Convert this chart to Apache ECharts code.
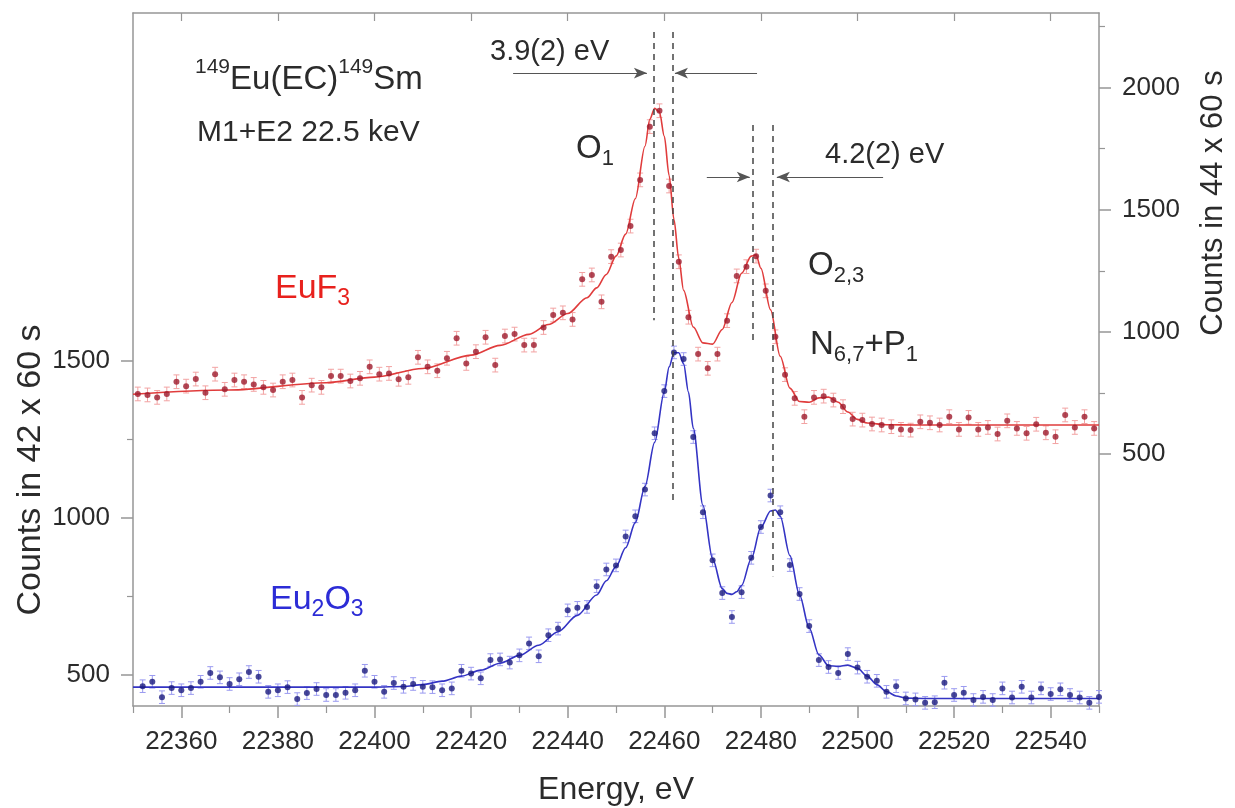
<!DOCTYPE html>
<html>
<head>
<meta charset="utf-8">
<script src="https://cdn.jsdelivr.net/npm/echarts@6/dist/echarts.min.js"></script>
<style>
  html, body { margin: 0; padding: 0; background: #fff; }
  #chart { width: 1235px; height: 808px; }
</style>
</head>
<body>
<div id="chart"></div>
<script>
// EuF3, right axis (counts in 44 x 60 s)
const redE = [
  22351, 22353, 22355, 22357, 22359, 22361, 22363, 22365, 22367, 22369,
  22371, 22373, 22375, 22377, 22379, 22381, 22383, 22385, 22387, 22389,
  22391, 22393, 22395, 22397, 22399, 22401, 22403, 22405, 22407, 22409,
  22411, 22413, 22415, 22417, 22419, 22421, 22423, 22425, 22427, 22429,
  22431, 22433, 22435, 22437, 22439, 22441, 22443, 22445, 22447, 22449,
  22451, 22453, 22455, 22457, 22459, 22461, 22463, 22465, 22467, 22469,
  22471, 22473, 22475, 22477, 22479, 22481, 22483, 22485, 22487, 22489,
  22491, 22493, 22495, 22497, 22499, 22501, 22503, 22505, 22507, 22509,
  22511, 22513, 22515, 22517, 22519, 22521, 22523, 22525, 22527, 22529,
  22531, 22533, 22535, 22537, 22539, 22541, 22543, 22545, 22547, 22549
];
const redV = [
  746, 742, 732, 746, 796, 778, 807, 751, 827, 765,
  803, 796, 785, 773, 762, 796, 803, 732, 782, 773,
  819, 819, 799, 810, 857, 827, 830, 806, 814, 896,
  857, 841, 892, 974, 871, 919, 978, 864, 983, 991,
  946, 946, 1018, 1069, 1078, 1051, 1215, 1233, 1123, 1308,
  1335, 1433, 1622, 1840, 1905, 1597, 1287, 1060, 909, 851,
  909, 1046, 1229, 1267, 1310, 1168, 980, 825, 728, 653,
  732, 737, 721, 694, 643, 639, 623, 619, 612, 601,
  598, 632, 628, 619, 653, 601, 650, 601, 609, 582,
  636, 605, 585, 622, 587, 571, 660, 609, 653, 605
];
const redFitE = [22350, 22370, 22390, 22400, 22410, 22420, 22426, 22432, 22436, 22440,
  22444, 22446, 22448, 22450, 22452, 22454, 22456, 22457, 22458, 22459,
  22460, 22461, 22462, 22463, 22464, 22466, 22468, 22470, 22472, 22474,
  22476, 22478, 22479, 22480, 22482, 22484, 22486, 22488, 22490, 22492,
  22494, 22496, 22498, 22500, 22502, 22506, 22512, 22550];
const redFitV = [745, 762, 792, 815, 850, 905, 945, 990, 1030, 1075,
  1140, 1180, 1235, 1310, 1400, 1545, 1760, 1870, 1915, 1900,
  1800, 1640, 1460, 1300, 1170, 1020, 955, 950, 1010, 1120,
  1240, 1310, 1315, 1260, 1090, 900, 770, 715, 712, 730,
  733, 712, 672, 642, 627, 620, 619, 619];

// Eu2O3, left axis (counts in 42 x 60 s)
const blueE = [
  22352, 22354, 22356, 22358, 22360, 22362, 22364, 22366, 22368, 22370,
  22372, 22374, 22376, 22378, 22380, 22382, 22384, 22386, 22388, 22390,
  22392, 22394, 22396, 22398, 22400, 22402, 22404, 22406, 22408, 22410,
  22412, 22414, 22416, 22418, 22420, 22422, 22424, 22426, 22428, 22430,
  22432, 22434, 22436, 22438, 22440, 22442, 22444, 22446, 22448, 22450,
  22452, 22454, 22456, 22458, 22460, 22462, 22464, 22466, 22468, 22470,
  22472, 22474, 22476, 22478, 22480, 22482, 22484, 22486, 22488, 22490,
  22492, 22494, 22496, 22498, 22500, 22502, 22504, 22506, 22508, 22510,
  22512, 22514, 22516, 22518, 22520, 22522, 22524, 22526, 22528, 22530,
  22532, 22534, 22536, 22538, 22540, 22542, 22544, 22546, 22548, 22550
];
const blueV = [
  465, 479, 430, 459, 452, 459, 479, 507, 493, 472,
  487, 510, 495, 447, 452, 462, 424, 443, 456, 437,
  437, 444, 452, 514, 479, 447, 475, 463, 472, 463,
  462, 452, 458, 514, 505, 490, 548, 550, 540, 563,
  601, 560, 627, 648, 706, 714, 717, 783, 836, 849,
  941, 1005, 1090, 1269, 1403, 1526, 1505, 1257, 1018, 865,
  761, 685, 764, 873, 971, 1071, 1018, 850, 758, 656,
  548, 526, 507, 567, 524, 495, 482, 447, 465, 426,
  423, 412, 414, 476, 437, 444, 421, 431, 421, 458,
  429, 463, 429, 458, 440, 455, 437, 429, 412, 431
];
const blueFitE = [22350, 22400, 22406, 22410, 22414, 22418, 22422, 22426, 22430, 22434,
  22438, 22442, 22446, 22448, 22450, 22452, 22454, 22456, 22458, 22460,
  22461, 22462, 22463, 22464, 22465, 22466, 22468, 22470, 22472, 22473,
  22474, 22475, 22476, 22478, 22480, 22482, 22483, 22484, 22486, 22488,
  22490, 22492, 22494, 22496, 22498, 22500, 22502, 22504, 22506, 22508,
  22510, 22514, 22550];
const blueFitV = [462, 462, 464, 470, 481, 497, 516, 538, 563, 595,
  638, 690, 755, 800, 845, 905, 985, 1100, 1240, 1400,
  1480, 1525, 1525, 1490, 1400, 1285, 1040, 870, 775, 760,
  757, 765, 785, 870, 970, 1022, 1025, 1005, 880, 755,
  650, 565, 530, 528, 532, 522, 497, 470, 448, 434,
  427, 426, 426];

const redErr = 28;
const blueErr = 20;

// axes
const xMajor = [22360, 22380, 22400, 22420, 22440, 22460, 22480, 22500, 22520, 22540];
const xMinor = [22350, 22370, 22390, 22410, 22430, 22450, 22470, 22490, 22510, 22530, 22550];
const leftMajor = [500, 1000, 1500];
const leftMinor = [750, 1250];
const rightMajor = [500, 1000, 1500, 2000];
const rightMinor = [750, 1250, 1750, 2250];

// annotations, in right-axis units: [energy, top, bottom]
const peakLines = [[22457.8, 2227, 1048], [22461.8, 2227, 312], [22478.4, 1847, 967], [22482.5, 1847, 0]];
// [from, to, level]
const arrows = [[22428.7, 22456.4, 2059], [22479.2, 22462.2, 2059], [22468.8, 22477.7, 1634], [22505.3, 22483.3, 1634]];

const FONT = '"Liberation Sans", Arial, Helvetica, sans-serif';
const gray = '#969696';
const ink = '#2b2b2b';

const pairs = (xs, ys) => xs.map((x, i) => [x, ys[i]]);

function errorBars(color, err) {
  return function (params, api) {
    const x = api.value(0), y = api.value(1);
    const a = api.coord([x, y + err]);
    const b = api.coord([x, y - err]);
    const hw = 3;
    const st = { stroke: color, lineWidth: 1 };
    return {
      type: 'group',
      children: [
        { type: 'line', shape: { x1: a[0], y1: a[1], x2: b[0], y2: b[1] }, style: st },
        { type: 'line', shape: { x1: a[0] - hw, y1: a[1], x2: a[0] + hw, y2: a[1] }, style: st },
        { type: 'line', shape: { x1: b[0] - hw, y1: b[1], x2: b[0] + hw, y2: b[1] }, style: st }
      ]
    };
  };
}

const fmt = v => String(v);

function xAxisDef(extra) {
  return Object.assign({
    type: 'value', min: 22350, max: 22550, position: 'bottom',
    axisLine: { show: false, onZero: false },
    axisTick: { show: false },
    axisLabel: { show: false },
    splitLine: { show: false }
  }, extra);
}

function yAxisDef(extra) {
  return Object.assign({
    type: 'value',
    axisLine: { show: false, onZero: false },
    axisTick: { show: false },
    axisLabel: { show: false },
    splitLine: { show: false }
  }, extra);
}

const tickLab = { fontSize: 26, color: ink, fontFamily: FONT, formatter: fmt };
const frameLine = { show: true, onZero: false, lineStyle: { color: gray, width: 1.5 } };

function sub(F, f, color) {
  return {
    b: { fontSize: F, lineHeight: F, verticalAlign: 'top', fontFamily: FONT, fill: color },
    s: { fontSize: f, lineHeight: F + 20, fontFamily: FONT, fill: color }
  };
}

function richText(x, y, text, rich) {
  return { type: 'text', x: x, y: y, silent: true, style: { text: text, rich: rich, align: 'left', verticalAlign: 'top' } };
}

function label(x, y, text, size) {
  return {
    type: 'text', x: x, y: y, silent: true,
    style: { text: text, fontSize: size, fontFamily: FONT, fill: ink, align: 'left', verticalAlign: 'middle' }
  };
}

function axisTitle(x, y, text, size, rotate) {
  return {
    type: 'text', x: x, y: y, silent: true, rotation: rotate ? Math.PI / 2 : 0,
    style: { text: text, fontSize: size, fontFamily: FONT, fill: ink, align: 'center', verticalAlign: 'middle' }
  };
}

const chart = echarts.init(document.getElementById('chart'));

chart.setOption({
  animation: false,
  backgroundColor: '#fff',
  grid: { left: 133, right: 136, top: 13, bottom: 102, outerBoundsMode: 'none' },
  xAxis: [
    xAxisDef({
      axisLine: frameLine,
      axisTick: { show: true, customValues: xMajor, length: 12, lineStyle: { color: gray, width: 1.5 } },
      axisLabel: Object.assign({ show: true, customValues: xMajor, margin: 23 }, tickLab)
    }),
    xAxisDef({
      axisTick: { show: true, customValues: xMinor, length: 7, lineStyle: { color: gray, width: 1.2 } }
    }),
    xAxisDef({
      position: 'top',
      axisLine: frameLine,
      axisTick: { show: true, inside: true, customValues: xMajor, length: 8, lineStyle: { color: gray, width: 1.2 } }
    })
  ],
  yAxis: [
    yAxisDef({
      position: 'left', min: 402, max: 2605,
      axisLine: frameLine,
      axisTick: { show: true, customValues: leftMajor, length: 12, lineStyle: { color: gray, width: 1.5 } },
      axisLabel: Object.assign({ show: true, customValues: leftMajor, margin: 23 }, tickLab)
    }),
    yAxisDef({
      position: 'left', min: 402, max: 2605,
      axisTick: { show: true, customValues: leftMinor, length: 6, lineStyle: { color: gray, width: 1.2 } }
    }),
    yAxisDef({
      position: 'right', min: -531, max: 2305,
      axisLine: frameLine,
      axisTick: { show: true, customValues: rightMajor, length: 12, lineStyle: { color: gray, width: 1.5 } },
      axisLabel: Object.assign({ show: true, customValues: rightMajor, margin: 23 }, tickLab)
    }),
    yAxisDef({
      position: 'right', min: -531, max: 2305,
      axisTick: { show: true, customValues: rightMinor, length: 6, lineStyle: { color: gray, width: 1.2 } }
    })
  ],
  series: [
    {
      type: 'custom', name: 'Eu2O3 err', xAxisIndex: 0, yAxisIndex: 0, z: 1, silent: true,
      renderItem: errorBars('#9a9af0', blueErr), data: pairs(blueE, blueV), encode: { x: 0, y: 1 }
    },
    {
      type: 'line', name: 'Eu2O3 fit', xAxisIndex: 0, yAxisIndex: 0, z: 2, silent: true,
      data: pairs(blueFitE, blueFitV), smooth: 0.3, smoothMonotone: 'x', showSymbol: false,
      lineStyle: { color: '#3434c4', width: 1.6 }
    },
    {
      type: 'scatter', name: 'Eu2O3', xAxisIndex: 0, yAxisIndex: 0, z: 3, silent: true,
      data: pairs(blueE, blueV), symbolSize: 6, itemStyle: { color: '#1a1a7e' }
    },
    {
      type: 'custom', name: 'EuF3 err', xAxisIndex: 0, yAxisIndex: 2, z: 1, silent: true,
      renderItem: errorBars('#f2a2a2', redErr), data: pairs(redE, redV), encode: { x: 0, y: 1 }
    },
    {
      type: 'line', name: 'EuF3 fit', xAxisIndex: 0, yAxisIndex: 2, z: 2, silent: true,
      data: pairs(redFitE, redFitV), smooth: 0.3, smoothMonotone: 'x', showSymbol: false,
      lineStyle: { color: '#e03c3c', width: 1.6 },
      markLine: {
        silent: true, symbol: 'none', animation: false,
        label: { show: false },
        lineStyle: { color: '#444', width: 1.5, type: [6, 5] },
        emphasis: { disabled: true },
        data: peakLines.map(p => [{ coord: [p[0], p[1]] }, { coord: [p[0], p[2]] }])
      }
    },
    {
      type: 'scatter', name: 'EuF3', xAxisIndex: 0, yAxisIndex: 2, z: 3, silent: true,
      data: pairs(redE, redV), symbolSize: 6, itemStyle: { color: '#9e1a2c' },
      markLine: {
        silent: true, symbol: ['none', 'arrow'], symbolSize: [8, 13], animation: false,
        label: { show: false },
        lineStyle: { color: '#555', width: 1, type: 'solid' },
        emphasis: { disabled: true },
        data: arrows.map(a => [{ coord: [a[0], a[2]] }, { coord: [a[1], a[2]] }])
      }
    }
  ],
  graphic: {
    elements: [
      axisTitle(616, 790, 'Energy, eV', 32, false),
      axisTitle(31, 470, 'Counts in 42 x 60 s', 34, true),
      axisTitle(1213, 203, 'Counts in 44 x 60 s', 31, true),
      richText(195, 57, '{sup|149}{big|Eu(EC)}{sup|149}{big|Sm}', {
        big: { fontSize: 33, lineHeight: 46, fontFamily: FONT, fill: ink },
        sup: { fontSize: 21, lineHeight: 28, verticalAlign: 'top', fontFamily: FONT, fill: ink }
      }),
      label(197, 133, 'M1+E2 22.5 keV', 30),
      label(490, 52, '3.9(2) eV', 29),
      label(825, 155, '4.2(2) eV', 29),
      richText(576, 132, '{b|O}{s|1}', sub(33, 22, ink)),
      richText(808, 249, '{b|O}{s|2,3}', sub(33, 22, ink)),
      richText(810, 328, '{b|N}{s|6,7}{b|+P}{s|1}', sub(33, 22, ink)),
      richText(275, 272, '{b|EuF}{s|3}', sub(34, 23, '#e8211d')),
      richText(270, 583, '{b|Eu}{s|2}{b|O}{s|3}', sub(34, 23, '#2c2cd6'))
    ]
  }
});
</script>
</body>
</html>
